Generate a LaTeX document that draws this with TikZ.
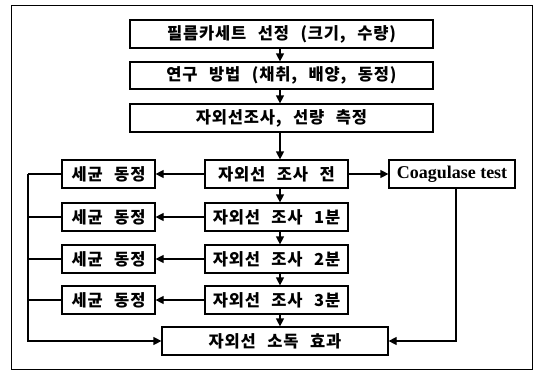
\documentclass[tikz,border=0pt]{standalone}
\usepackage{fontspec}
\setmainfont{Liberation Serif}
\newfontfamily\kr[WordSpace=2.5,LetterSpace=5]{Noto Sans CJK KR}
\usetikzlibrary{arrows.meta}
\begin{document}
\begin{tikzpicture}[x=1pt,y=-1pt,
  box/.style={draw,line width=1.2pt,inner sep=0pt,minimum height=28pt,font=\kr\bfseries\fontsize{16.5}{18}\selectfont},
  arr/.style={line width=1.2pt,-{Triangle[length=8pt,width=8pt]}},
  ln/.style={line width=1.2pt}]
\useasboundingbox (0,0) rectangle (536,370);
\draw[line width=1pt] (11,5) rectangle (532,369);
\node[box,minimum width=303pt] (b1) at (281.5,34) {필름카세트 선정 (크기, 수량)};
\node[box,minimum width=303pt,minimum height=27pt] (b2) at (281.5,75.5) {연구 방법 (채취, 배양, 동정)};
\node[box,minimum width=303pt] (b3) at (281.5,118) {자외선조사, 선량 측정};
\node[box,minimum width=143pt] (c0) at (276.5,174) {자외선 조사 전};
\node[box,minimum width=143pt] (c1) at (276.5,217) {자외선 조사 1분};
\node[box,minimum width=143pt] (c2) at (276.5,259) {자외선 조사 2분};
\node[box,minimum width=143pt] (c3) at (276.5,300) {자외선 조사 3분};
\node[box,minimum width=93pt] (l0) at (108.5,174) {세균 동정};
\node[box,minimum width=93pt] (l1) at (108.5,217) {세균 동정};
\node[box,minimum width=93pt] (l2) at (108.5,259) {세균 동정};
\node[box,minimum width=93pt] (l3) at (108.5,300) {세균 동정};
\node[box,minimum width=126pt,font=\bfseries\fontsize{18}{20}\selectfont] (co) at (452,174) {Coagulase test};
\node[box,minimum width=226pt] (fin) at (275,341) {자외선 소독 효과};
\coordinate (ax) at (280,0);
\coordinate (lx) at (28,0);
\coordinate (rx) at (456,0);
\draw[arr] (b1.south -| ax) -- (b2.north -| ax);
\draw[arr] (b2.south -| ax) -- (b3.north -| ax);
\draw[arr] (b3.south -| ax) -- (c0.north -| ax);
\draw[arr] (c0.south -| ax) -- (c1.north -| ax);
\draw[arr] (c1.south -| ax) -- (c2.north -| ax);
\draw[arr] (c2.south -| ax) -- (c3.north -| ax);
\draw[arr] (c3.south -| ax) -- (fin.north -| ax);
\draw[arr] (c0.west) -- (l0.east);
\draw[arr] (c1.west) -- (l1.east);
\draw[arr] (c2.west) -- (l2.east);
\draw[arr] (c3.west) -- (l3.east);
\draw[arr] (c0.east) -- (co.west);
\draw[ln] (l0.west) -- (l0.west -| lx);
\draw[ln] (l1.west) -- (l1.west -| lx);
\draw[ln] (l2.west) -- (l2.west -| lx);
\draw[ln] (l3.west) -- (l3.west -| lx);
\draw[arr] (l0.west -| lx) -- (fin.west -| lx) -- (fin.west);
\draw[arr] (co.south -| rx) -- (fin.east -| rx) -- (fin.east);
\end{tikzpicture}
\end{document}
